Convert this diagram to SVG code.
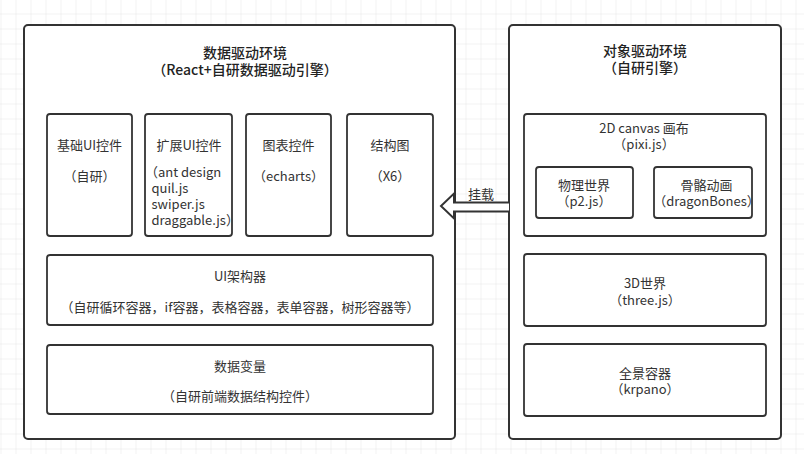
<svg xmlns="http://www.w3.org/2000/svg" width="804" height="454" viewBox="0 0 804 454">
<defs>
<pattern id="grid" x="0.5" y="13.5" width="15" height="15" patternUnits="userSpaceOnUse">
<path d="M0 0H15M0 0V15" fill="none" stroke="#e6e6e6" stroke-width="1"/>
</pattern>
<style>
.box{fill:#fff;stroke:#333;stroke-width:2}
.ibox{fill:#fff;stroke:#333;stroke-width:1.8}
text{font-family:"Noto Sans CJK SC","Noto Sans",sans-serif;font-size:13px;fill:#333;text-anchor:middle;dominant-baseline:central}
.t{font-size:14px;font-weight:500;fill:#222}
.l{text-anchor:start}
</style>
</defs>
<rect width="804" height="454" fill="#fff"/>
<rect width="804" height="454" fill="url(#grid)"/>

<g id="data-env">
<rect class="box" x="24" y="25" width="431" height="414" rx="4"/>
<text class="t" x="245" y="52">数据驱动环境</text>
<text class="t" x="245" y="69">（React+自研数据驱动引擎）</text>
</g>
<g id="basic-ui">
<rect class="ibox" x="47" y="114" width="85" height="122" rx="3"/>
<text x="89.5" y="144">基础UI控件</text>
<text x="89.5" y="175">（自研）</text>
</g>
<g id="ext-ui">
<rect class="ibox" x="145" y="114" width="87" height="122" rx="3"/>
<text x="189" y="144">扩展UI控件</text>
<text class="l" x="145" y="171.5">（ant design</text>
<text class="l" x="151.5" y="187.5">quil.js</text>
<text class="l" x="151.5" y="203.5">swiper.js</text>
<text class="l" x="151.5" y="219.5">draggable.js）</text>
</g>
<g id="chart">
<rect class="ibox" x="246" y="114" width="85" height="122" rx="3"/>
<text x="288.5" y="144">图表控件</text>
<text x="288.5" y="175">（echarts）</text>
</g>
<g id="struct">
<rect class="ibox" x="347" y="114" width="86" height="122" rx="3"/>
<text x="390" y="144">结构图</text>
<text x="390" y="175">（X6）</text>
</g>
<g id="ui-builder">
<rect class="ibox" x="47" y="255" width="386" height="70" rx="3"/>
<text x="240" y="275">UI架构器</text>
<text x="240" y="306.5">（自研循环容器，if容器，表格容器，表单容器，树形容器等）</text>
</g>
<g id="data-var">
<rect class="ibox" x="47" y="345" width="386" height="69" rx="3"/>
<text x="240" y="365">数据变量</text>
<text x="240" y="395.5">（自研前端数据结构控件）</text>
</g>

<g id="object-env">
<rect class="box" x="509" y="25" width="272" height="414" rx="4"/>
<text class="t" x="645" y="50">对象驱动环境</text>
<text class="t" x="645" y="67">（自研引擎）</text>
</g>
<g id="canvas2d">
<rect class="ibox" x="524" y="114" width="242" height="122" rx="3"/>
<text x="644" y="127.5">2D canvas 画布</text>
<text x="644" y="143.5">（pixi.js）</text>
</g>
<g id="physics">
<rect class="ibox" x="536" y="167" width="97" height="51" rx="3"/>
<text x="584" y="184">物理世界</text>
<text x="584" y="200.5">（p2.js）</text>
</g>
<g id="skeleton">
<rect class="ibox" x="654" y="167" width="98" height="51" rx="3"/>
<text x="706.5" y="184">骨骼动画</text>
<text x="706.5" y="200.5">（dragonBones）</text>
</g>
<g id="world3d">
<rect class="ibox" x="524" y="254" width="242" height="72" rx="3"/>
<text x="645" y="282.5">3D世界</text>
<text x="645" y="299">（three.js）</text>
</g>
<g id="pano">
<rect class="ibox" x="524" y="344" width="242" height="72" rx="3"/>
<text x="645" y="372.5">全景容器</text>
<text x="645" y="388.5">（krpano）</text>
</g>

<g id="connectors">
<path d="M509 202.5H454V193.5L441 206L454 218.5V211.5H509" fill="#fff" stroke="#333" stroke-width="2" stroke-linejoin="miter"/>
<text x="481" y="193">挂载</text>
</g>
</svg>
